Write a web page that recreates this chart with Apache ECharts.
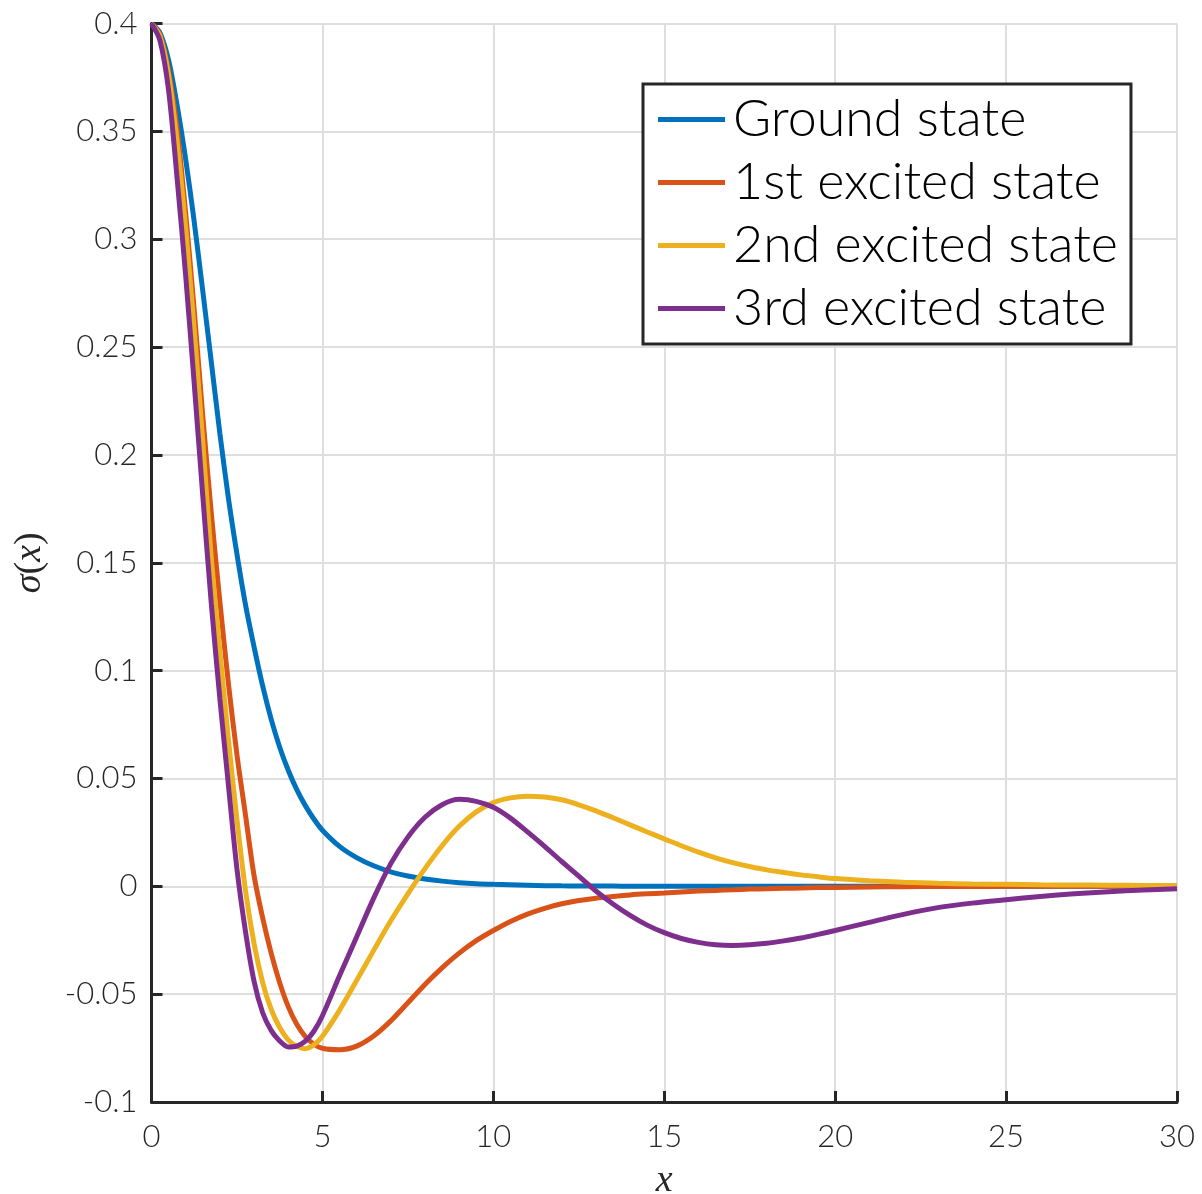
<!DOCTYPE html>
<html>
<head>
<meta charset="utf-8">
<script src="https://cdn.jsdelivr.net/npm/echarts@6/dist/echarts.min.js"></script>
<style>
  html, body { margin: 0; padding: 0; background: #ffffff; }
  #chart { width: 1202px; height: 1194px; }
</style>
</head>
<body>
<div id="chart"></div>
<script>
// Sample positions along x: fine steps near the origin, coarser in the tail
const xs = [0, 0.25, 0.5, 0.75, 1, 1.25, 1.5, 1.75, 2, 2.25, 2.5, 2.75, 3, 3.25, 3.5, 3.75, 4, 4.25, 4.5, 4.75, 5,
            5.5, 6, 6.5, 7, 7.5, 8, 8.5, 9, 9.5, 10, 10.5, 11, 11.5, 12, 12.5, 13, 13.5, 14, 14.5, 15,
            15.5, 16, 16.5, 17, 17.5, 18, 18.5, 19, 19.5, 20,
            21, 22, 23, 24, 25, 26, 27, 28, 29, 30];

// sigma(x) for each state
const groundState = [0.4, 0.3956, 0.383, 0.362, 0.337, 0.308, 0.276, 0.243, 0.210, 0.180, 0.154, 0.1305, 0.111, 0.093, 0.0775, 0.0645, 0.0538, 0.0448, 0.0374, 0.0312, 0.0260,
                     0.0185, 0.0133, 0.0095, 0.0067, 0.0048, 0.0034, 0.0024, 0.0017, 0.0012, 0.0009, 0.0007, 0.0005, 0.0003, 0.0002, 0.00015, 0.0001, 0.0001, 0.00005, 0, 0,
                     0, 0, 0, 0, 0, 0, 0, 0, 0, 0,
                     0, 0, 0, 0, 0, 0, 0, 0, 0, 0];
const firstExcited = [0.4, 0.3946, 0.378, 0.351, 0.312, 0.267, 0.218, 0.173, 0.132, 0.094, 0.061, 0.033, 0.005, -0.0145, -0.031, -0.0447, -0.0558, -0.064, -0.0697, -0.0732, -0.0751,
                      -0.0758, -0.0741, -0.0694, -0.0624, -0.0540, -0.0455, -0.0378, -0.0310, -0.0252, -0.0205, -0.0163, -0.0129, -0.0102, -0.0081, -0.0066, -0.0055, -0.0047, -0.0040, -0.0035, -0.0031,
                      -0.0026, -0.0022, -0.0019, -0.0016, -0.0013, -0.0011, -0.0009, -0.0008, -0.0006, -0.0005,
                      -0.0003, -0.0002, -0.0001, -0.0001, 0, 0, 0, 0, 0, 0];
const secondExcited = [0.4, 0.394, 0.376, 0.345, 0.305, 0.258, 0.206, 0.152, 0.109, 0.068, 0.031, -0.002, -0.0265, -0.0445, -0.0570, -0.0655, -0.0712, -0.0742, -0.0753, -0.0735, -0.0695,
                       -0.0575, -0.0437, -0.0297, -0.0160, -0.0035, 0.0082, 0.0188, 0.0278, 0.0345, 0.0388, 0.0410, 0.0418, 0.0414, 0.0401, 0.0378, 0.0350, 0.0318, 0.0285, 0.0252, 0.0220,
                       0.0188, 0.0158, 0.0132, 0.0110, 0.0092, 0.0076, 0.0064, 0.0053, 0.0044, 0.0036,
                       0.0026, 0.0019, 0.0014, 0.0011, 0.0009, 0.0007, 0.0006, 0.0005, 0.0004, 0.0003];
const thirdExcited = [0.4, 0.392, 0.369, 0.328, 0.283, 0.233, 0.181, 0.131, 0.087, 0.047, 0.008, -0.021, -0.044, -0.0585, -0.0668, -0.0717, -0.0745, -0.0741, -0.0718, -0.0672, -0.0600,
                      -0.0415, -0.0235, -0.0055, 0.0105, 0.0228, 0.0320, 0.0378, 0.0403, 0.0394, 0.0366, 0.0316, 0.0252, 0.0185, 0.0115, 0.0047, -0.0022, -0.0082, -0.0135, -0.0180, -0.0215,
                      -0.0242, -0.0260, -0.0271, -0.0274, -0.0271, -0.0264, -0.0253, -0.0240, -0.0223, -0.0205,
                      -0.0167, -0.0130, -0.0099, -0.0078, -0.0062, -0.0047, -0.0035, -0.0025, -0.0017, -0.0011];

const seriesNames = ['Ground state', '1st excited state', '2nd excited state', '3rd excited state'];
const seriesValues = [groundState, firstExcited, secondExcited, thirdExcited];
const seriesColors = ['#0072BD', '#D95319', '#EDB120', '#7E2F8E'];

// Axis ticks
const xTicks = { min: 0, max: 30, interval: 5 };
const yTicks = { min: -0.1, max: 0.4, interval: 0.05 };

const axisColor = '#262626';
const gridColor = '#dedede';
const labelFont = 'Lato';

const chart = echarts.init(document.getElementById('chart'), null, { renderer: 'canvas' });

const axisCommon = {
  type: 'value',
  axisLine: { show: true, onZero: false, lineStyle: { color: axisColor, width: 3 } },
  axisTick: { show: true, inside: true, length: 11, lineStyle: { color: axisColor, width: 3 } },
  splitLine: { show: true, lineStyle: { color: gridColor, width: 2 } },
  axisLabel: { color: axisColor, fontSize: 31, fontFamily: labelFont, fontWeight: 300 },
  nameLocation: 'middle'
};

const option = {
  backgroundColor: '#ffffff',
  animation: false,
  grid: { left: 151.5, right: 25, top: 23.5, bottom: 92, containLabel: false, outerBoundsMode: 'none' },
  xAxis: Object.assign({}, axisCommon, {
    min: xTicks.min, max: xTicks.max, interval: xTicks.interval,
    axisLabel: Object.assign({}, axisCommon.axisLabel, { margin: 19 }),
    name: 'x',
    nameGap: 60,
    nameTextStyle: { fontFamily: 'Liberation Serif', fontStyle: 'italic', fontSize: 38, color: axisColor }
  }),
  yAxis: Object.assign({}, axisCommon, {
    min: yTicks.min, max: yTicks.max, interval: yTicks.interval,
    axisLabel: Object.assign({}, axisCommon.axisLabel, {
      margin: 14,
      formatter: v => String(parseFloat(v.toFixed(2)))
    }),
    name: '{i|σ}{u|(}{i|x}{u|)}',
    nameGap: 102,
    nameTextStyle: {
      color: axisColor,
      rich: {
        i: { fontFamily: 'Liberation Serif', fontStyle: 'italic', fontSize: 38, color: axisColor },
        u: { fontFamily: 'Liberation Serif', fontStyle: 'normal', fontSize: 38, color: axisColor }
      }
    }
  }),
  legend: {
    show: true,
    orient: 'vertical',
    left: 643,
    top: 84,
    padding: [9.5, 13, 9.5, 15],
    itemGap: 11,
    itemWidth: 67,
    itemHeight: 5,
    icon: 'rect',
    backgroundColor: '#ffffff',
    borderColor: axisColor,
    borderWidth: 3,
    borderRadius: 0,
    data: seriesNames,
    textStyle: {
      fontFamily: labelFont,
      fontWeight: 300,
      fontSize: 52,
      color: '#000000',
      padding: [0, 0, 0, 3]
    }
  },
  series: seriesNames.map((name, k) => ({
    name: name,
    type: 'line',
    showSymbol: false,
    symbol: 'none',
    smooth: 0.3,
    color: seriesColors[k],
    lineStyle: { width: 5, color: seriesColors[k] },
    data: xs.map((x, i) => [x, seriesValues[k][i]])
  }))
};

chart.setOption(option);
</script>
</body>
</html>
